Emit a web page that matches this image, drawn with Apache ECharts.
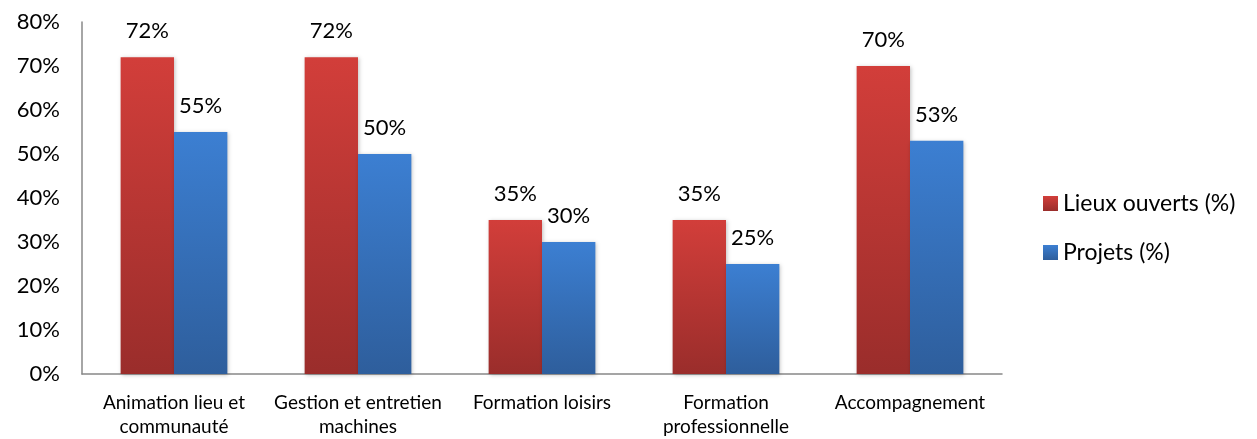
<!DOCTYPE html>
<html lang="fr">
<head>
    <meta charset="UTF-8">
    <title>Activités</title>
    <script src="https://cdn.jsdelivr.net/npm/echarts@6/dist/echarts.min.js"></script>
    <style>
        html, body { margin: 0; padding: 0; background: #fff; }
    </style>
</head>
<body>
<div id="barDiv" style="width: 1257px;height:439px;"></div>
<script>
    var categories = ['Animation lieu et\ncommunauté', 'Gestion et entretien\nmachines', 'Formation loisirs', 'Formation\nprofessionnelle', 'Accompagnement'];
    var lieuxOuverts = [72, 72, 35, 35, 70];
    var projets = [55, 50, 30, 25, 53];
    var yTicks = [0, 10, 20, 30, 40, 50, 60, 70, 80];

    var fontName = 'Lato, "Open Sans", sans-serif';

    function grad(top, bottom) {
        return new echarts.graphic.LinearGradient(0, 0, 0, 1, [
            {offset: 0, color: top},
            {offset: 1, color: bottom}
        ]);
    }

    var mycharts = echarts.init(document.getElementById("barDiv"));

    var option = {
        animation: false,
        textStyle: {fontFamily: fontName},
        grid: {left: 82, right: 255, top: 22, bottom: 64},
        legend: {
            orient: 'vertical',
            left: 1038,
            top: 187,
            itemWidth: 15,
            itemHeight: 15,
            itemGap: 26,
            icon: 'rect',
            textStyle: {fontSize: 23, color: '#000', fontFamily: fontName},
            data: ['Lieux ouverts (%)', 'Projets (%)']
        },
        xAxis: {
            type: 'category',
            data: categories,
            axisLine: {lineStyle: {color: '#888', width: 1.5}},
            axisTick: {show: false},
            axisLabel: {color: '#000', fontSize: 19, lineHeight: 24, margin: 17, interval: 0, fontFamily: fontName}
        },
        yAxis: {
            type: 'value',
            min: yTicks[0],
            max: yTicks[yTicks.length - 1],
            interval: 10,
            splitLine: {show: false},
            axisLine: {show: true, lineStyle: {color: '#888', width: 1.5}},
            axisTick: {show: false},
            axisLabel: {color: '#000', fontSize: 22, margin: 22, formatter: '{value}%', fontFamily: fontName}
        },
        series: [
            {
                name: 'Lieux ouverts (%)',
                type: 'bar',
                data: lieuxOuverts,
                barGap: '0%',
                barCategoryGap: '42%',
                itemStyle: {
                    color: grad('#d23e3a', '#9a2d2b'),
                    shadowBlur: 4,
                    shadowColor: 'rgba(0,0,0,0.25)',
                    shadowOffsetX: 1,
                    shadowOffsetY: 1
                },
                label: {show: true, position: 'top', distance: 15, formatter: '{c}%', color: '#000', fontSize: 22, fontFamily: fontName}
            },
            {
                name: 'Projets (%)',
                type: 'bar',
                data: projets,
                barGap: '0%',
                barCategoryGap: '42%',
                itemStyle: {
                    color: grad('#3c7fd2', '#2e5e9c'),
                    shadowBlur: 4,
                    shadowColor: 'rgba(0,0,0,0.25)',
                    shadowOffsetX: 1,
                    shadowOffsetY: 1
                },
                label: {show: true, position: 'top', distance: 15, formatter: '{c}%', color: '#000', fontSize: 22, fontFamily: fontName}
            }
        ]
    };
    mycharts.setOption(option);
</script>
</body>
</html>
